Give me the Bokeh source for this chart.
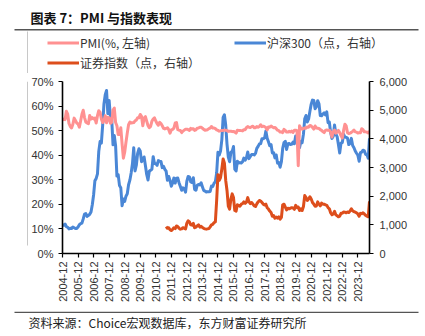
import math
from bokeh.plotting import figure
from bokeh.layouts import column, row
from bokeh.models import (Range1d, LinearAxis, FixedTicker, Legend, LegendItem, Label,
                          BoxAnnotation)
from bokeh.embed import file_html
from bokeh.resources import INLINE

# ---------------- data (monthly, 2004-12 .. 2024-09) ----------------
pmi = [54.3,
       54.7, 54.5, 57.9, 56.7, 52.9, 51.7, 51.1, 52.6, 55.1, 54.1, 53.1, 52.7,
       51.4, 53.9, 56.7, 58.3, 55.3, 53.5, 53.1, 52.8, 56.2, 54.7, 55.3, 54.8,
       55.1, 53.1, 56.1, 58.1, 57.5, 54.7, 53.3, 54.0, 56.1, 53.2, 55.4, 55.3,
       53.0, 53.4, 58.4, 59.2, 53.3, 52.0, 48.4, 48.4, 51.2, 44.6, 38.8, 41.2,
       45.3, 49.0, 52.4, 53.5, 53.1, 53.2, 53.3, 54.0, 54.3, 55.2, 55.2, 56.6,
       55.8, 52.0, 55.1, 55.7, 53.9, 52.1, 51.2, 51.7, 53.8, 54.7, 55.2, 53.9,
       52.9, 52.2, 53.4, 52.9, 52.0, 50.9, 50.7, 50.9, 51.2, 50.4, 49.0, 50.3,
       50.5, 51.0, 53.1, 53.3, 50.4, 50.2, 50.1, 49.2, 49.8, 50.2, 50.6, 50.6,
       50.4, 50.1, 50.9, 50.6, 50.8, 50.1, 50.3, 51.0, 51.1, 51.4, 51.4, 51.0,
       50.5, 50.2, 50.3, 50.4, 50.8, 51.0, 51.7, 51.1, 51.1, 50.8, 50.3, 50.1,
       49.8, 49.9, 50.1, 50.1, 50.2, 50.2, 50.0, 49.7, 49.8, 49.8, 49.6, 49.7,
       49.4, 49.0, 50.2, 50.1, 50.1, 50.0, 49.9, 50.4, 50.4, 51.2, 51.7, 51.4,
       51.3, 51.6, 51.8, 51.2, 51.2, 51.7, 51.4, 51.7, 52.4, 51.6, 51.8, 51.6,
       51.3, 50.3, 51.5, 51.4, 51.9, 51.5, 51.2, 51.3, 50.8, 50.2, 50.0, 49.4,
       49.5, 49.2, 50.5, 50.1, 49.4, 49.4, 49.7, 49.5, 49.8, 49.3, 50.2, 50.2,
       50.0, 35.7, 52.0, 50.8, 50.6, 50.9, 51.1, 51.0, 51.5, 51.4, 52.1, 51.9,
       51.3, 50.6, 51.9, 51.1, 51.0, 50.9, 50.4, 50.1, 49.6, 49.2, 50.1, 50.3,
       50.1, 50.2, 49.5, 47.4, 49.6, 50.2, 49.0, 49.4, 50.1, 49.2, 48.0, 47.0,
       50.1, 52.6, 51.9, 49.2, 48.8, 49.0, 49.3, 49.7, 50.2, 49.5, 49.4, 49.0,
       49.2, 49.1, 50.8, 50.4, 49.5, 49.5, 49.4, 49.1, 49.8]

hs300 = [1000,
         982, 1030, 934, 915, 859, 877, 872, 925, 900, 873, 876, 923,
         1003, 1041, 1061, 1207, 1371, 1392, 1295, 1327, 1367, 1449, 1699, 2041,
         2535, 2618, 2781, 3564, 3904, 3848, 4471, 5218, 5539, 5688, 4880, 5338,
         4743, 4671, 3790, 4113, 3753, 2700, 2751, 2370, 2293, 1664, 1900, 1817,
         2000, 2082, 2398, 2559, 2812, 3130, 3690, 2879, 3078, 3491, 3652, 3575,
         3204, 3281, 3368, 3067, 2758, 2564, 2868, 2903, 2935, 3379, 3136, 3128,
         3077, 3239, 3223, 3212, 2996, 3044, 2937, 2871, 2555, 2686, 2546, 2346,
         2464, 2634, 2455, 2627, 2633, 2461, 2333, 2205, 2293, 2254, 2140, 2523,
         2686, 2673, 2495, 2477, 2645, 2235, 2205, 2381, 2410, 2392, 2468, 2331,
         2202, 2178, 2146, 2158, 2157, 2165, 2350, 2338, 2450, 2508, 2809, 3533,
         3434, 3572, 3966, 4750, 4841, 4473, 3816, 3366, 3203, 3534, 3566, 3731,
         2946, 2878, 3218, 3156, 3170, 3154, 3204, 3329, 3253, 3336, 3538, 3310,
         3387, 3452, 3456, 3439, 3492, 3666, 3738, 3822, 3837, 4006, 4006, 4031,
         4275, 4023, 3899, 3756, 3802, 3510, 3517, 3335, 3438, 3153, 3173, 3011,
         3202, 3670, 3872, 3913, 3630, 3826, 3836, 3799, 3814, 3887, 3828, 4097,
         4003, 3940, 3687, 3912, 3868, 4164, 4696, 4816, 4588, 4695, 4960, 5211,
         5352, 5337, 5048, 5124, 5332, 5224, 4812, 4806, 4866, 4909, 4833, 4940,
         4564, 4582, 4223, 4016, 4091, 4486, 4170, 4079, 3805, 3509, 3854, 3872,
         4157, 4063, 4051, 4029, 3799, 3842, 4015, 3765, 3690, 3573, 3497, 3431,
         3216, 3516, 3537, 3604, 3579, 3462, 3442, 3321, 4018]

# securities index starts 2011-08 (month index 80)
sec_start = 80
sec_idx = [940, 880, 900, 830, 800,
           840, 900, 870, 960, 940, 880, 850, 860, 900, 880, 860, 1060,
           1140, 1100, 1000, 990, 1050, 900, 920, 960, 1000, 920, 950, 910,
           880, 860, 850, 860, 870, 930, 1000, 1020, 1080, 1100, 1850, 2750,
           2550, 2650, 2950, 3300, 3150, 2550, 2200, 1650, 1550, 1900, 2080, 1950,
           1500, 1480, 1700, 1680, 1650, 1720, 1740, 1800, 1750, 1790, 1950, 1800,
           1740, 1780, 1720, 1660, 1640, 1730, 1800, 1850, 1830, 1780, 1720, 1690,
           1720, 1600, 1550, 1480, 1430, 1300, 1320, 1230, 1270, 1230, 1280, 1200,
           1260, 1700, 1720, 1620, 1520, 1580, 1560, 1580, 1600, 1590, 1540, 1680,
           1600, 1620, 1500, 1560, 1500, 1640, 2020, 1950, 1850, 1900, 1980, 1900,
           1780, 1720, 1650, 1660, 1800, 1720, 1660, 1760, 1720, 1720, 1700, 1680,
           1600, 1560, 1420, 1350, 1380, 1470, 1350, 1320, 1280, 1300, 1400, 1400,
           1450, 1440, 1420, 1450, 1430, 1480, 1560, 1490, 1460, 1440, 1420, 1380,
           1300, 1400, 1390, 1420, 1380, 1330, 1300, 1280, 1820]

tick_labels = ["2004-12", "2005-12", "2006-12", "2007-12", "2008-12", "2009-12",
               "2010-12", "2011-12", "2012-12", "2013-12", "2014-12", "2015-12",
               "2016-12", "2017-12", "2018-12", "2019-12", "2020-12", "2021-12",
               "2022-12", "2023-12"]
left_ticks = [0, 10, 20, 30, 40, 50, 60, 70]
right_ticks = [0, 1000, 2000, 3000, 4000, 5000, 6000]
series_names = ["PMI(%, 左轴)", "沪深300（点，右轴）", "证券指数（点，右轴）"]
title_text = "图表 7：PMI 与指数表现"
source_text = "资料来源：Choice宏观数据库，东方财富证券研究所"

PINK = "#FF9191"
BLUE = "#4A87D6"
ORANGE = "#DD4E1C"
RULE = "#555555"
VRULE = "#C8C8C8"
CJK = "Noto Sans CJK SC"
LAT = "Liberation Sans"

x_all = list(range(len(pmi)))
x_sec = list(range(sec_start, sec_start + len(sec_idx)))

W = 425
TOP_H = 73      # header strip (page y 0..73)
MID_H = 238     # chart row    (page y 73..311)
BOT_H = 25      # footer strip (page y 311..336)
STRIP_W = 28


def blank(width, height, y_top, y_bot):
    # helper figure whose data units equal page pixels; y is stored negated
    f = figure(width=width, height=height, output_backend="svg", toolbar_location=None,
               x_range=Range1d(0, width), y_range=Range1d(-y_bot, -y_top),
               x_axis_location=None, y_axis_location=None,
               min_border=0, outline_line_color=None)
    f.xgrid.visible = False
    f.ygrid.visible = False
    f.background_fill_color = "white"
    f.border_fill_color = "white"
    return f


def rule(fig, x0, x1, y0, y1, color):
    fig.add_layout(BoxAnnotation(left=x0, right=x1, top=-y0, bottom=-y1,
                                 fill_color=color, fill_alpha=1.0,
                                 line_color=None, line_width=0))


# ---------------- header: title, rule, legend ----------------
top = blank(W, TOP_H, 0, TOP_H)
top.add_layout(Label(x=30, y=-17, text=title_text, text_font=CJK, text_font_style="bold",
                     text_font_size="13px", text_baseline="middle", text_color="#111111"))
rule(top, 14, 418, 28.5, 30.0, RULE)
rule(top, 26.5, 27.5, 31.0, TOP_H, VRULE)
# legend proxies (kept outside the visible window)
d_pmi = top.line([-20, -10], [10, 10], line_color=PINK, line_width=3)
d_hs = top.line([-20, -10], [10, 10], line_color=BLUE, line_width=3)
d_sec = top.line([-20, -10], [10, 10], line_color=ORANGE, line_width=3)
legend = Legend(items=[LegendItem(label=series_names[0], renderers=[d_pmi]),
                       LegendItem(label=series_names[1], renderers=[d_hs]),
                       LegendItem(label=series_names[2], renderers=[d_sec])],
                orientation="horizontal", ncols=2,
                location=(47, TOP_H - 34 - 37),
                label_text_font=CJK, label_text_font_size="12px",
                label_text_color="#333333",
                glyph_width=32, glyph_height=17, label_height=17,
                label_width=151, label_standoff=1, spacing=3,
                padding=0, margin=0, border_line_color=None,
                background_fill_alpha=0)
top.add_layout(legend, "center")

# ---------------- left strip with the vertical rule ----------------
strip = blank(STRIP_W, MID_H, TOP_H, TOP_H + MID_H)
rule(strip, 26.5, 27.5, TOP_H, 300, VRULE)

# ---------------- main chart ----------------
FL, FR, FT, FB = 59 - STRIP_W, 369 - STRIP_W, 81 - TOP_H, 253 - TOP_H
MW = W - STRIP_W
p = figure(width=MW, height=MID_H, output_backend="svg", toolbar_location=None,
           x_range=Range1d(0, len(pmi) - 1), y_range=Range1d(0, 70),
           min_border_left=FL, min_border_right=MW - FR,
           min_border_top=FT, min_border_bottom=MID_H - FB)
p.extra_y_ranges = {"r": Range1d(0, 6000)}
p.outline_line_color = None
p.xgrid.visible = False
p.ygrid.visible = False
p.background_fill_color = "white"
p.border_fill_color = "white"

r_hs = p.line(x_all, hs300, line_color=BLUE, line_width=3, y_range_name="r",
              line_join="round")
r_sec = p.line(x_sec, sec_idx, line_color=ORANGE, line_width=3, y_range_name="r",
               line_join="round")
r_pmi = p.line(x_all, pmi, line_color=PINK, line_width=3, line_join="round")

right = LinearAxis(y_range_name="r")
p.add_layout(right, "right")

xa = p.xaxis[0]
ya = p.yaxis[0]
for ax in (xa, ya, right):
    ax.axis_line_color = "#000000"
    ax.axis_line_width = 1.6
    ax.major_tick_line_color = "#000000"
    ax.major_tick_line_width = 1.2
    ax.major_tick_in = 0
    ax.major_tick_out = 4
    ax.minor_tick_line_color = None
    ax.major_label_text_font = LAT
    ax.major_label_text_font_size = "11px"
    ax.major_label_text_color = "#333333"
    ax.major_label_standoff = 4

xa.ticker = FixedTicker(ticks=[12 * i for i in range(len(tick_labels))])
xa.major_label_overrides = {12 * i: t for i, t in enumerate(tick_labels)}
xa.major_label_orientation = math.pi / 2

ya.ticker = FixedTicker(ticks=left_ticks)
ya.major_label_overrides = {t: f"{t}%" for t in left_ticks}
ya.major_label_standoff = 5

right.ticker = FixedTicker(ticks=right_ticks)
right.major_label_overrides = {t: f"{t:,}" for t in right_ticks}
right.major_label_standoff = 6

# ---------------- footer: rule and source ----------------
bot = blank(W, BOT_H, TOP_H + MID_H, TOP_H + MID_H + BOT_H)
rule(bot, 14, 418, TOP_H + MID_H, TOP_H + MID_H + 1.5, RULE)
bot.add_layout(Label(x=28, y=-322, text=source_text, text_font=CJK,
                     text_font_size="12px", text_baseline="middle",
                     text_color="#222222"))

layout = column(top, row(strip, p, spacing=0), bot, spacing=0)
open("out.html", "w").write(file_html(layout, INLINE))
